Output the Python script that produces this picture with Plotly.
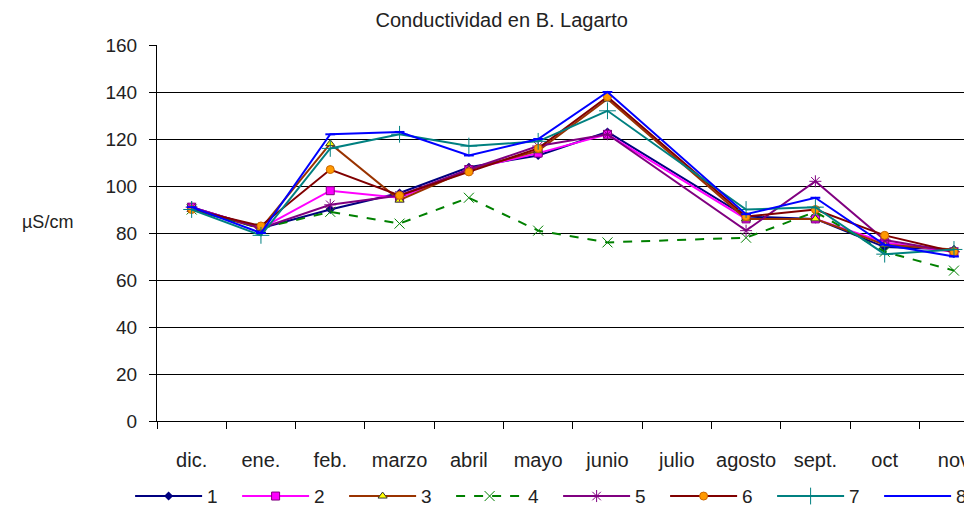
import plotly.graph_objects as go

months = ['dic.', 'ene.', 'feb.', 'marzo', 'abril', 'mayo', 'junio', 'julio',
          'agosto', 'sept.', 'oct', 'nov']

s1 = [91, 82, 90, 97, 108, 113, 123, None, 87, 86, 74, 73]
s2 = [91, 82, 98, 95, 107, 114, 122, None, 86, 86, 76, 72]
s3 = [90, 82, 118, 94, 107, 115, 137, None, 86, 86, 75, 73]
s4 = [90, 82, 89, 84, 95, 81, 76, None, 78, 89, 72, 64]
s5 = [91, 82, 92, 96, 107, 117, 122, None, 81, 102, 77, 72]
s6 = [90, 83, 107, 96, 106, 116, 138, None, 87, 90, 79, 72]
s7 = [90, 79, 116, 122, 117, 119, 132, None, 90, 91, 71, 73]
s8 = [91, 80, 122, 123, 113, 120, 140, None, 88, 95, 75, 70]

y_ticks = [0, 20, 40, 60, 80, 100, 120, 140, 160]

series = [
    ('1', s1, '#000080', 'solid', dict(symbol='diamond', size=7, color='#000080')),
    ('2', s2, '#FF00FF', 'solid', dict(symbol='square', size=8, color='#FF00FF',
                                        line=dict(color='#800080', width=1))),
    ('3', s3, '#993300', 'solid', dict(symbol='triangle-up', size=8, color='#FFFF00',
                                        line=dict(color='#333333', width=1))),
    ('4', s4, '#008000', 'dash', dict(symbol='x-thin-open', size=10,
                                       line=dict(color='#008000', width=1))),
    ('5', s5, '#800080', 'solid', dict(symbol='asterisk-open', size=10,
                                        line=dict(color='#800080', width=1))),
    ('6', s6, '#800000', 'solid', dict(symbol='circle', size=8, color='#FF9900',
                                        line=dict(color='#CC6600', width=1))),
    ('7', s7, '#008080', 'solid', dict(symbol='cross-thin-open', size=12,
                                        line=dict(color='#008080', width=1))),
    ('8', s8, '#0000FF', 'solid', dict(symbol='line-ew-open', size=7,
                                        line=dict(color='#0000FF', width=2))),
]

fig = go.Figure()
for name, vals, col, dash, mk in series:
    fig.add_trace(go.Scatter(
        x=months, y=vals, name=name, mode='lines+markers',
        connectgaps=True,
        line=dict(color=col, width=2, dash=dash),
        marker=mk,
    ))

font = 'Liberation Sans, Arial, sans-serif'
fig.update_layout(
    width=964, height=502,
    margin=dict(l=149, r=0, t=37, b=89, autoexpand=False),
    paper_bgcolor='white', plot_bgcolor='white',
    font=dict(family=font, size=18, color='#222222'),
    title=dict(text='Conductividad en B. Lagarto', x=0.423, xref='paper',
               xanchor='center', y=0.976, yanchor='middle',
               font=dict(size=20, color='#222222')),
    xaxis=dict(
        type='category', categoryorder='array', categoryarray=months,
        range=[-0.5, 11.26],
        showline=True, linecolor='black', linewidth=1,
        ticks='outside', tickson='boundaries', ticklen=7, tickcolor='black',
        showgrid=False, tickfont=dict(size=20), ticklabelstandoff=21,
    ),
    yaxis=dict(
        range=[0, 160], tickvals=y_ticks,
        showline=True, linecolor='black', linewidth=1,
        ticks='outside', ticklen=7, tickcolor='black',
        showgrid=True, gridcolor='black', gridwidth=1,
        zeroline=False, tickfont=dict(size=19), ticklabelstandoff=8,
    ),
    legend=dict(orientation='h', x=-0.033, xanchor='left', y=-0.2, yanchor='middle',
                itemwidth=67, entrywidth=25, entrywidthmode='pixels',
                font=dict(size=19), tracegroupgap=0),
    showlegend=True,
)

fig.add_annotation(text='µS/cm', xref='paper', yref='paper',
                   x=-0.101, y=0.529, xanchor='right', yanchor='middle',
                   showarrow=False, font=dict(size=18, color='#222222'))

fig.write_html('out.html')
